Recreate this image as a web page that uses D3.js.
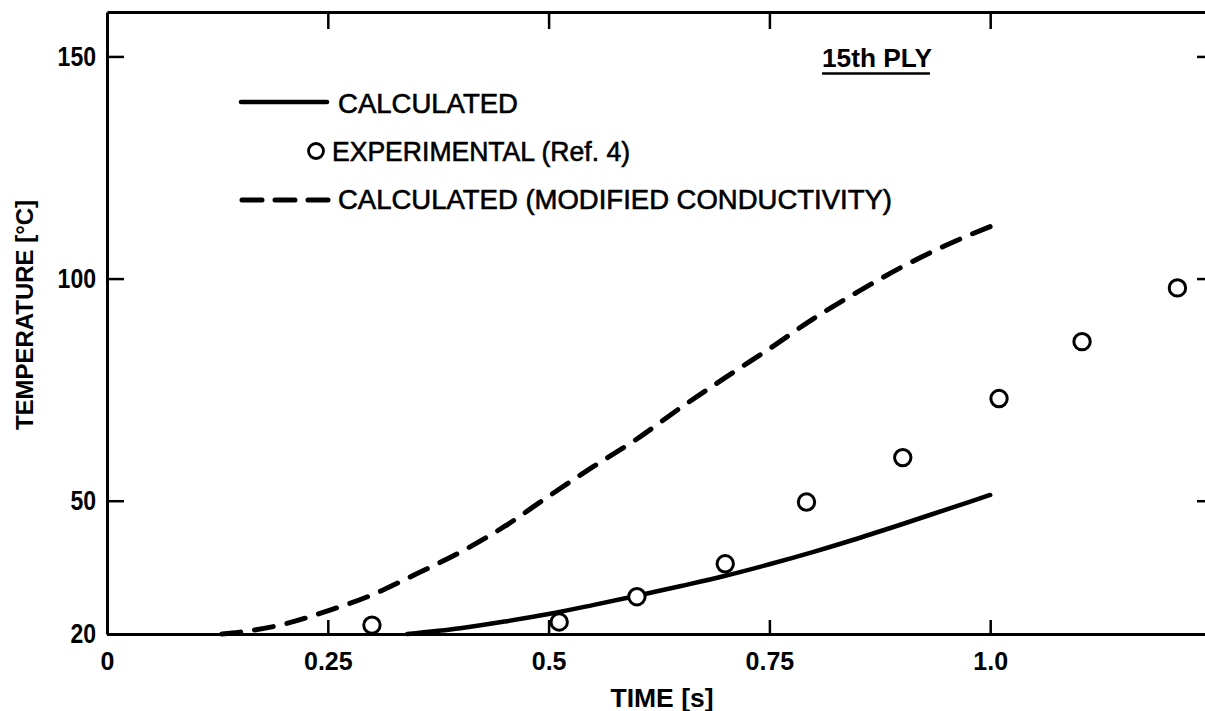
<!DOCTYPE html>
<html>
<head>
<meta charset="utf-8">
<script src="https://cdnjs.cloudflare.com/ajax/libs/d3/7.8.5/d3.min.js"></script>
<style>
  html, body { margin: 0; padding: 0; background: #fff; }
  svg { display: block; font-family: "Liberation Sans", Arial, Helvetica, sans-serif; }
</style>
</head>
<body>
<svg id="chart" width="1205" height="711"></svg>
<script>
// ---- data ----
const calcTime = [0.34, 0.40, 0.45, 0.50, 0.55, 0.60, 0.65, 0.70, 0.75, 0.80, 0.85, 0.90, 0.95, 1.00];
const calcTemp = [20.0, 21.3, 22.8, 24.5, 26.5, 28.6, 30.8, 33.1, 35.7, 38.5, 41.5, 44.7, 48.0, 51.3];

const modTime = [0.13, 0.15, 0.20, 0.25, 0.30, 0.35, 0.40, 0.45, 0.50, 0.55, 0.60, 0.65, 0.70, 0.75, 0.80, 0.85, 0.90, 0.95, 1.00];
const modTemp = [20.0, 20.4, 22.2, 25.2, 28.8, 33.5, 38.4, 44.2, 51.0, 57.6, 63.9, 71.0, 77.7, 84.2, 91.0, 97.0, 102.6, 107.5, 111.7];

const expTime = [0.300, 0.512, 0.600, 0.700, 0.792, 0.901, 1.010, 1.104, 1.212];
const expTemp = [22.0, 22.7, 28.4, 35.8, 49.7, 59.7, 73.0, 85.8, 97.9];

const xTicks = [0, 0.25, 0.5, 0.75, 1.0];
const xTickLabels = ["0", "0.25", "0.5", "0.75", "1.0"];
const yTicks = [20, 50, 100, 150];

const legendLabels = ["CALCULATED", "EXPERIMENTAL (Ref. 4)", "CALCULATED (MODIFIED CONDUCTIVITY)"];
const plyLabel = "15th PLY";
const xTitle = "TIME [s]";
const yTitle = "TEMPERATURE [°C]";

// ---- layout ----
const svg = d3.select("#chart");
const x = d3.scaleLinear().domain([0, 1.25]).range([107, 1211]);
const y = d3.scaleLinear().domain([20, 160]).range([634, 12]);
const ink = "#000";

// axes (ticks point inward)
const gL = svg.append("g").attr("transform", `translate(${x(0)},0)`)
  .call(d3.axisLeft(y).tickValues(yTicks).tickSize(-17).tickSizeOuter(0).tickPadding(11));
const gB = svg.append("g").attr("transform", `translate(0,${y(20)})`)
  .call(d3.axisBottom(x).tickValues(xTicks).tickFormat((d, i) => xTickLabels[i]).tickSize(-14).tickSizeOuter(0).tickPadding(18));
const gT = svg.append("g").attr("transform", `translate(0,${y(160)})`)
  .call(d3.axisTop(x).tickValues(xTicks.slice(1)).tickFormat("").tickSize(-17).tickSizeOuter(0));
const gR = svg.append("g").attr("transform", `translate(${x(1.25)},0)`)
  .call(d3.axisRight(y).tickValues(yTicks.slice(1)).tickFormat("").tickSize(-14).tickSizeOuter(0));

[gL, gB, gT, gR].forEach(g => {
  g.select(".domain").attr("stroke", ink).attr("stroke-width", 3);
  g.selectAll(".tick line").attr("stroke", ink).attr("stroke-width", 2.5);
  g.selectAll(".tick text").attr("fill", ink).attr("font-size", 25).attr("font-weight", "bold")
    .attr("font-family", "Liberation Sans, Arial, sans-serif");
});
gL.selectAll(".tick text").attr("font-size", 28)
  .attr("textLength", d => String(d).length * 12.8).attr("lengthAdjust", "spacingAndGlyphs");

// axis titles
svg.append("text").attr("x", 662).attr("y", 707).attr("text-anchor", "middle")
  .attr("font-size", 25).attr("font-weight", "bold").attr("textLength", 103).attr("lengthAdjust", "spacingAndGlyphs")
  .text(xTitle);
svg.append("text").attr("transform", "translate(33,315) rotate(-90)").attr("text-anchor", "middle")
  .attr("font-size", 24).attr("font-weight", "bold").attr("textLength", 230).attr("lengthAdjust", "spacingAndGlyphs")
  .text(yTitle);

// curves
const calcData = calcTime.map((t, i) => [t, calcTemp[i]]);
const modData = modTime.map((t, i) => [t, modTemp[i]]);
const line = d3.line().x(d => x(d[0])).y(d => y(d[1])).curve(d3.curveMonotoneX);

svg.append("path").datum(calcData).attr("d", line)
  .attr("fill", "none").attr("stroke", ink).attr("stroke-width", 4.5).attr("stroke-linecap", "round");
svg.append("path").datum(modData).attr("d", line)
  .attr("fill", "none").attr("stroke", ink).attr("stroke-width", 5)
  .attr("stroke-linecap", "round").attr("stroke-dasharray", "19 14");

// experimental points
svg.append("g").selectAll("circle").data(expTime.map((t, i) => [t, expTemp[i]])).join("circle")
  .attr("cx", d => x(d[0])).attr("cy", d => y(d[1])).attr("r", 8.2)
  .attr("fill", "#fff").attr("stroke", ink).attr("stroke-width", 3);

// legend
const lg = svg.append("g");
lg.append("line").attr("x1", 241).attr("x2", 327).attr("y1", 102).attr("y2", 102)
  .attr("stroke", ink).attr("stroke-width", 4.5).attr("stroke-linecap", "round");
lg.append("circle").attr("cx", 316).attr("cy", 151).attr("r", 7.5)
  .attr("fill", "#fff").attr("stroke", ink).attr("stroke-width", 2.8);
lg.append("line").attr("x1", 242).attr("x2", 330).attr("y1", 200).attr("y2", 200)
  .attr("stroke", ink).attr("stroke-width", 5).attr("stroke-linecap", "round").attr("stroke-dasharray", "20 13");
const legX = [338, 332, 338];
const legY = [113, 161, 209];
const legW = [180, 298, 554];
legendLabels.forEach((s, i) => {
  lg.append("text").attr("x", legX[i]).attr("y", legY[i]).attr("font-size", 27)
    .attr("textLength", legW[i]).attr("lengthAdjust", "spacingAndGlyphs")
    .attr("fill", ink).attr("stroke", ink).attr("stroke-width", 0.6).text(s);
});

// annotation
svg.append("text").attr("x", 877).attr("y", 67).attr("text-anchor", "middle")
  .attr("font-size", 26).attr("font-weight", "bold").attr("textLength", 110).attr("lengthAdjust", "spacingAndGlyphs")
  .text(plyLabel);
svg.append("line").attr("x1", 822).attr("x2", 930).attr("y1", 73.5).attr("y2", 73.5)
  .attr("stroke", ink).attr("stroke-width", 2.5);
</script>
</body>
</html>
